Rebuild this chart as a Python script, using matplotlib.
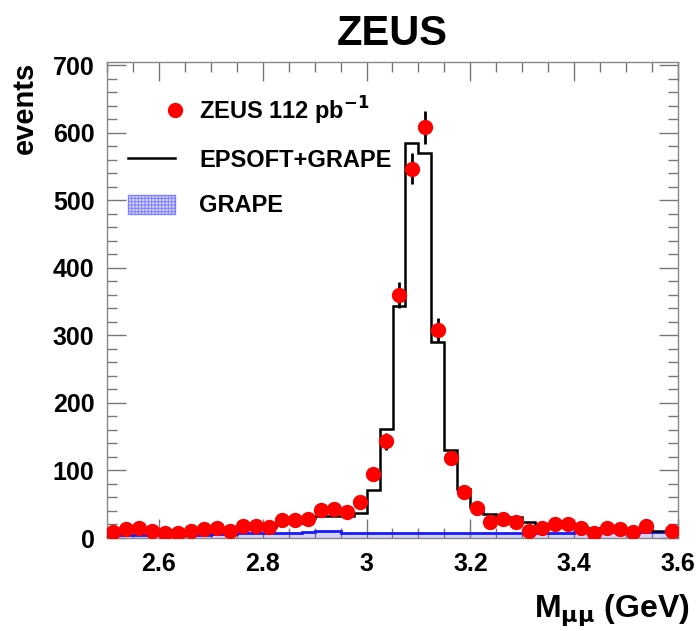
import numpy as np
import matplotlib
matplotlib.use('Agg')
import matplotlib.pyplot as plt
from matplotlib.patches import Patch
from matplotlib.lines import Line2D
from matplotlib.legend_handler import HandlerLine2D

plt.rcParams['font.family'] = ['Liberation Sans', 'DejaVu Sans']
plt.rcParams['font.weight'] = 'bold'
plt.rcParams['mathtext.default'] = 'bf'
plt.rcParams['hatch.color'] = '#3a3aff'
plt.rcParams['hatch.linewidth'] = 0.7

# bin edges: 44 bins of 25 MeV from 2.5 to 3.6 GeV
edges = np.linspace(2.5, 3.6, 45)
centers = 0.5 * (edges[:-1] + edges[1:])

# ZEUS data (events per bin), nan = no point shown
data = [9, 13, 15, 11, 8, 8, 11, 13, 15, 11, 18,
        18, 17, 27, 27, 28, 42, 43, 39, 54,
        95, 143, 360, 547, 608, 308, 119, 68, 44, 23, 28, 24,
        11, 15, 21, 20, 15, 8, 15, 14, 9, 18, np.nan, 11]

# EPSOFT+GRAPE prediction
mc_total = [12, 12, 12, 12, 12, 12, 12, 12, 12, 12, 17,
            17, 17, 22, 22, 30, 32, 32, 32, 37,
            71, 162, 343, 585, 570, 291, 131, 72, 46, 36, 31, 31,
            24, 20, 18, 17, 16, 15, 14, 13, 12, 12, 10, 11]

# GRAPE only
grape = [4, 4, 5, 5, 5, 5, 5, 5, 6, 6, 7,
         7, 7, 8, 8, 9, 10, 10, 7, 8,
         8, 8, 8, 8, 8, 8, 8, 8, 8, 8, 8, 8,
         8, 8, 8, 8, 9, 9, 9, 9, 9, 9, 9, 9]

data = np.array(data, dtype=float)
errors = np.sqrt(data)


class RightMarkerHandler(HandlerLine2D):
    """Put the legend marker at the right end of the handle box"""
    def get_xdata(self, legend, xdescent, ydescent, width, height, fontsize):
        x = -xdescent + width
        return np.array([x, x]), np.array([x])


fig = plt.figure(figsize=(6.98, 6.31), dpi=100)
ax = fig.add_axes([107 / 698, 93 / 631, 571 / 698, 476 / 631])

# GRAPE hatched band
ax.stairs(grape, edges, fill=True, facecolor='#d4d4ff', edgecolor='none',
          hatch='+++++', zorder=1)
ax.stairs(grape, edges, color='#1a1aff', linewidth=2, zorder=2)

# EPSOFT+GRAPE histogram
ax.stairs(mc_total, edges, color='black', linewidth=1.8, zorder=3)

# data points
ax.errorbar(centers, data, yerr=errors, fmt='o', color='red', ms=10,
            mec='red', ecolor='black', elinewidth=2, capsize=0, zorder=4)

ax.set_xlim(2.5, 3.6)
ax.set_ylim(0, 705)
ax.set_xticks([2.6, 2.8, 3.0, 3.2, 3.4, 3.6])
ax.set_xticklabels(['2.6', '2.8', '3', '3.2', '3.4', '3.6'])
ax.set_yticks(range(0, 701, 100))
ax.set_xticks(np.arange(2.5, 3.601, 0.05), minor=True)
ax.set_yticks(range(0, 701, 20), minor=True)
ax.tick_params(which='both', direction='in', top=True, right=True,
               color='#777777', labelsize=18)
ax.tick_params(which='major', length=14, width=1)
ax.tick_params(which='minor', length=7, width=1)
ax.tick_params(axis='x', pad=10)
ax.tick_params(axis='y', pad=9)
for s in ax.spines.values():
    s.set_color('#888888')
    s.set_linewidth(1)

ax.set_title('ZEUS', fontsize=30, fontweight='bold', pad=12)
ax.set_ylabel('events', fontsize=21, fontweight='bold', loc='top')
ax.yaxis.set_label_coords(-0.12, 1.0)
ax.set_xlabel(r'M$_{\mu\mu}$ (GeV)', fontsize=23, fontweight='bold', loc='right')
ax.xaxis.set_label_coords(1.02, -0.115)

dot_handle = Line2D([], [], marker='o', color='red', linestyle='none', ms=10)
handles = [
    dot_handle,
    Line2D([], [], color='black', linewidth=1.8),
    Patch(facecolor='#d4d4ff', edgecolor='#8080ff', hatch='+++++'),
]
labels = [r'ZEUS 112 pb$^{\mathbf{-1}}$', 'EPSOFT+GRAPE', 'GRAPE']
leg = ax.legend(handles, labels, loc='upper left', bbox_to_anchor=(0.037, 0.932),
                frameon=False, fontsize=17, handlelength=2.0, handleheight=0.85,
                labelspacing=0.95, handletextpad=1.0, borderaxespad=0,
                borderpad=0, handler_map={dot_handle: RightMarkerHandler(numpoints=1)})

plt.savefig('out.png', dpi=100)
plt.close()
